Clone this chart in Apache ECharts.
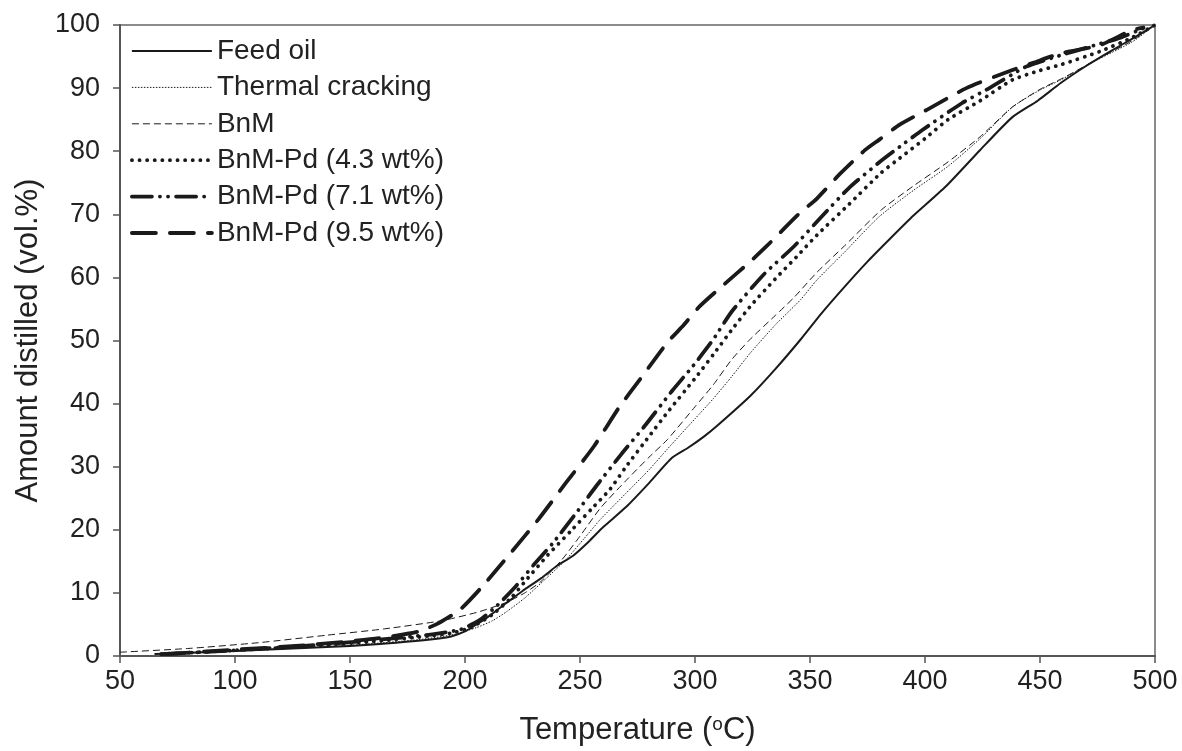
<!DOCTYPE html>
<html>
<head>
<meta charset="utf-8">
<script src="https://cdn.jsdelivr.net/npm/echarts@6/dist/echarts.min.js"></script>
<style>html,body{margin:0;padding:0;background:#fff}#c{width:1182px;height:751px}</style>
</head>
<body>
<div id="c"></div>
<script>
const seriesNames = ['Feed oil','Thermal cracking','BnM','BnM-Pd (4.3 wt%)','BnM-Pd (7.1 wt%)','BnM-Pd (9.5 wt%)'];
const xTicks = [50,100,150,200,250,300,350,400,450,500];
const yTicks = [0,10,20,30,40,50,60,70,80,90,100];

const feedOil = [[65,0.3],[80,0.5],[100,0.8],[120,1.1],[150,1.6],[170,2.1],[185,2.6],[194,3.1],[200,3.9],[205,5.0],[210,6.2],[218,8.4],[225,10.3],[233,12.3],[240,14.3],[247,15.9],[254,18.2],[260,20.4],[270,23.6],[280,27.4],[290,31.4],[297,33.0],[304,34.8],[310,36.6],[324,41.2],[335,45.5],[346,50.2],[355,54.3],[365,58.5],[375,62.5],[385,66.2],[395,69.8],[409,74.4],[424,80.2],[438,85.4],[449,88.0],[459,90.8],[470,93.5],[480,95.7],[490,97.8],[500,100]];
const thermal = [[68,0.3],[100,0.8],[150,1.7],[180,2.6],[195,3.4],[205,4.5],[212,5.6],[218,7.0],[226,9.2],[235,12.2],[244,15.3],[252,18.7],[259,21.7],[270,25.8],[280,29.5],[288,32.8],[300,37.6],[308,40.8],[316,44.3],[324,48.0],[335,52.5],[346,56.5],[353,59.6],[365,64.0],[380,69.6],[395,73.8],[410,77.6],[424,82.0],[438,87.0],[450,89.7],[459,91.3],[475,94.5],[490,97.3],[500,100]];
const bnm = [[50,0.6],[80,1.2],[110,2.1],[140,3.3],[165,4.3],[190,5.6],[206,7.0],[218,8.5],[226,10.0],[233,11.8],[242,15.2],[250,19.0],[259,23.5],[270,27.8],[280,31.5],[288,34.3],[300,39.5],[308,43.0],[316,47.0],[324,50.2],[335,54.0],[343,56.8],[353,60.8],[365,65.0],[381,70.7],[395,74.5],[410,78.3],[424,82.3],[438,87.0],[450,89.8],[460,91.6],[475,94.6],[490,97.5],[500,100]];
const pd43 = [[68,0.3],[100,0.9],[130,1.5],[160,2.3],[185,3.2],[195,3.7],[203,4.6],[212,6.6],[220,9.2],[227,12.2],[236,16.0],[246,19.8],[255,23.3],[263,26.4],[270,30.0],[280,34.8],[288,38.6],[300,44.0],[308,47.8],[316,51.7],[324,55.4],[335,59.8],[344,63.2],[353,66.7],[367,71.6],[381,76.6],[389,78.9],[400,82.0],[410,85.0],[424,88.0],[438,91.3],[450,92.8],[459,93.7],[476,95.8],[490,98.0],[500,100]];
const pd71 = [[68,0.3],[100,0.9],[130,1.6],[160,2.5],[185,3.4],[198,4.2],[206,5.6],[214,8.0],[222,11.0],[230,14.5],[238,17.8],[248,22.5],[257,26.9],[268,32.0],[278,36.4],[290,42.0],[299,45.9],[308,50.2],[316,54.6],[330,60.5],[343,64.9],[355,69.6],[367,74.2],[380,78.2],[389,80.7],[399,83.4],[416,87.6],[428,90.0],[444,93.4],[459,95.2],[472,96.6],[485,98.0],[495,99.5]];
const pd95 = [[70,0.3],[100,1.0],[130,1.7],[160,2.7],[180,3.9],[189,5.3],[198,7.4],[207,10.8],[220,16.4],[232,21.7],[244,27.5],[256,33.2],[267,39.4],[276,43.8],[288,49.7],[295,52.4],[302,55.4],[313,59.0],[324,62.5],[331,64.9],[345,70.0],[353,72.5],[363,76.4],[374,80.2],[380,81.8],[389,84.2],[401,86.6],[418,90.0],[436,92.6],[447,94.0],[459,95.5],[476,96.8],[490,99.2],[495,99.6]];

const dataSets = [feedOil, thermal, bnm, pd43, pd71, pd95];
const styles = [
  {width:2, type:'solid'},
  {width:1, type:[1.5,1.5]},
  {width:1, type:[7,4]},
  {width:3.8, type:[0.1,7.5], cap:'round'},
  {width:3.8, type:[20,8,0.1,8,0.1,8], cap:'round'},
  {width:3.8, type:[24,14], cap:'round'}
];
const FONT = 'Liberation Sans, Arial, sans-serif';
const chart = echarts.init(document.getElementById('c'), null, {renderer:'canvas'});
chart.setOption({
  animation:false,
  backgroundColor:'#fff',
  grid:{left:120, right:27, top:25, bottom:94, show:true, borderColor:'#666', borderWidth:1.5, backgroundColor:'transparent'},
  legend:{
    orient:'vertical', left:125, top:32, itemWidth:80, itemHeight:20, itemGap:8.4,
    data:seriesNames,
    itemStyle:{color:'rgba(0,0,0,0)', borderColor:'rgba(0,0,0,0)', borderWidth:0, opacity:0},
    lineStyle:{width:'inherit', type:'inherit', color:'inherit', cap:'inherit'},
    textStyle:{fontFamily:FONT, fontSize:28, color:'#222', lineHeight:28}
  },
  xAxis:{
    type:'value', min:50, max:500, interval:50,
    axisLine:{show:true, lineStyle:{color:'#555', width:2}},
    axisTick:{show:true, inside:false, length:7, lineStyle:{color:'#555', width:1.5}},
    axisLabel:{fontFamily:FONT, fontSize:27, color:'#222', margin:12,
      customValues: xTicks},
    splitLine:{show:false},
    name:'Temperature ({sup|o}C)', nameLocation:'middle', nameGap:59,
    nameTextStyle:{fontFamily:FONT, fontSize:31, color:'#222',
      rich:{sup:{fontFamily:FONT, fontSize:19, color:'#222', verticalAlign:'top', lineHeight:31, padding:[0,0,12,0]}}}
  },
  yAxis:{
    type:'value', min:0, max:100, interval:10,
    axisLine:{show:true, lineStyle:{color:'#555', width:2}},
    axisTick:{show:true, inside:false, length:7, lineStyle:{color:'#555', width:1.5}},
    axisLabel:{fontFamily:FONT, fontSize:27, color:'#222', margin:20, customValues: yTicks},
    splitLine:{show:false},
    name:'Amount distilled (vol.%)', nameLocation:'middle', nameGap:65, nameRotate:90,
    nameTextStyle:{fontFamily:FONT, fontSize:31, color:'#222'}
  },
  series: dataSets.map((d,i)=>({
    name:seriesNames[i], type:'line', data:d, showSymbol:false, symbol:'none', smooth:0.2,
    lineStyle:{color:'#1a1a1a', width:styles[i].width, type:styles[i].type, cap:styles[i].cap||'butt', join:'round'},
    itemStyle:{color:'#1a1a1a'},
    z: 2+i
  }))
});
</script>
</body>
</html>
